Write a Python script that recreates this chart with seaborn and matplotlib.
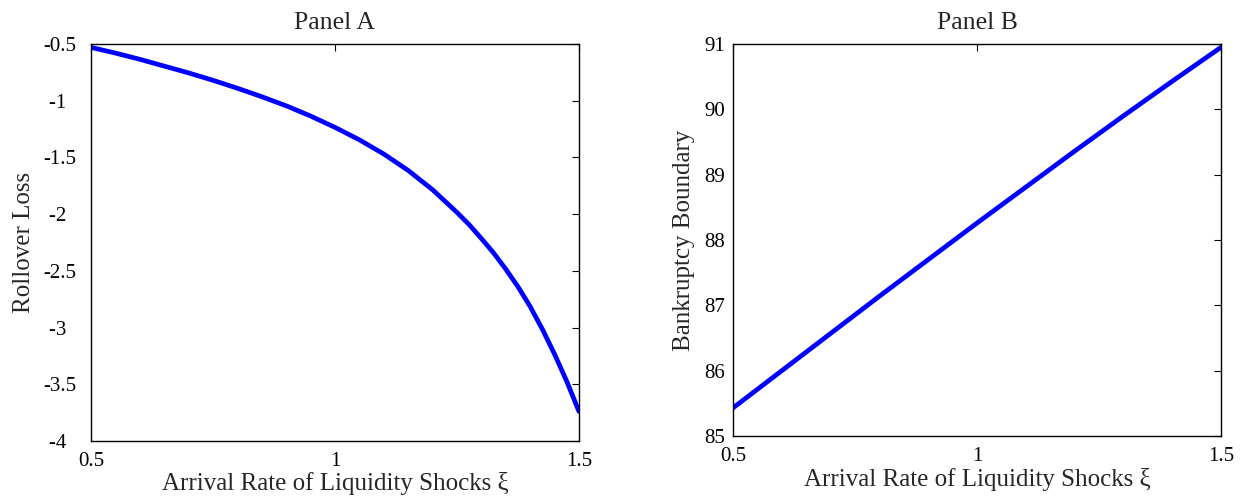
import matplotlib
matplotlib.use("Agg")
import matplotlib.pyplot as plt
import seaborn as sns
import pandas as pd

# Panel A data (denser where it bends most)
xi_a = [0.50, 0.55, 0.60, 0.65, 0.70, 0.75, 0.80, 0.85, 0.90, 0.95, 1.00,
        1.05, 1.10, 1.15, 1.20, 1.25, 1.275, 1.30, 1.325, 1.35, 1.375, 1.40,
        1.425, 1.45, 1.475, 1.50]
rollover_loss = [-0.530, -0.580, -0.635, -0.695, -0.755, -0.820, -0.890, -0.965, -1.045, -1.135, -1.235,
                 -1.345, -1.470, -1.615, -1.785, -1.985, -2.093, -2.215, -2.342, -2.485, -2.640, -2.815,
                 -3.015, -3.235, -3.475, -3.740]

# Panel B data
xi_b = [0.5, 0.6, 0.7, 0.8, 0.9, 1.0, 1.1, 1.2, 1.3, 1.4, 1.5]
bankruptcy_boundary = [85.43, 86.00, 86.57, 87.14, 87.70, 88.26, 88.81, 89.36, 89.90, 90.43, 90.95]

x_ticks = [0.5, 1, 1.5]
x_ticklabels = ["0.5", "1", "1.5"]
ya_ticks = [-4, -3.5, -3, -2.5, -2, -1.5, -1, -0.5]
ya_ticklabels = ["-4  ", "-3.5", "-3  ", "-2.5", "-2  ", "-1.5", "-1  ", "-0.5"]
yb_ticks = [85, 86, 87, 88, 89, 90, 91]
yb_ticklabels = ["85", "86", "87", "88", "89", "90", "91"]

sns.set_theme(style="white")
plt.rcParams["font.family"] = ["Liberation Serif", "DejaVu Serif"]

fig = plt.figure(figsize=(12.43, 5.01), dpi=100)
axA = fig.add_axes([0.0732, 0.1198, 0.3926, 0.7924])
axB = fig.add_axes([0.5897, 0.1297, 0.3926, 0.7824])

dfA = pd.DataFrame({"xi": xi_a, "val": rollover_loss})
dfB = pd.DataFrame({"xi": xi_b, "val": bankruptcy_boundary})

sns.lineplot(data=dfA, x="xi", y="val", ax=axA, color="#0000ff", linewidth=3.4)
sns.lineplot(data=dfB, x="xi", y="val", ax=axB, color="#0000ff", linewidth=3.4)

xlabel = "Arrival Rate of Liquidity Shocks ξ"
for ax, title, ylabel, yt, ytl, ylim, ypad in [
    (axA, "Panel A", "Rollover Loss", ya_ticks, ya_ticklabels, (-4, -0.5), 10.5),
    (axB, "Panel B", "Bankruptcy Boundary", yb_ticks, yb_ticklabels, (85, 91), 6),
]:
    ax.set_xlim(0.5, 1.5)
    ax.set_ylim(*ylim)
    ax.set_xticks(x_ticks)
    ax.set_xticklabels(x_ticklabels)
    ax.set_yticks(yt)
    ax.set_yticklabels(ytl)
    ax.set_title(title, fontsize=18.5, pad=11)
    ax.set_xlabel(xlabel, fontsize=18, labelpad=1)
    ax.set_ylabel(ylabel, fontsize=18, labelpad=6)
    ax.tick_params(direction="in", length=5, width=0.8, top=True, right=True,
                   labelsize=15, colors="black")
    ax.tick_params(axis="x", pad=8)
    ax.tick_params(axis="y", pad=ypad)
    for s in ax.spines.values():
        s.set_visible(True)
        s.set_color("black")
        s.set_linewidth(1.0)

fig.savefig("out.png", dpi=100)
